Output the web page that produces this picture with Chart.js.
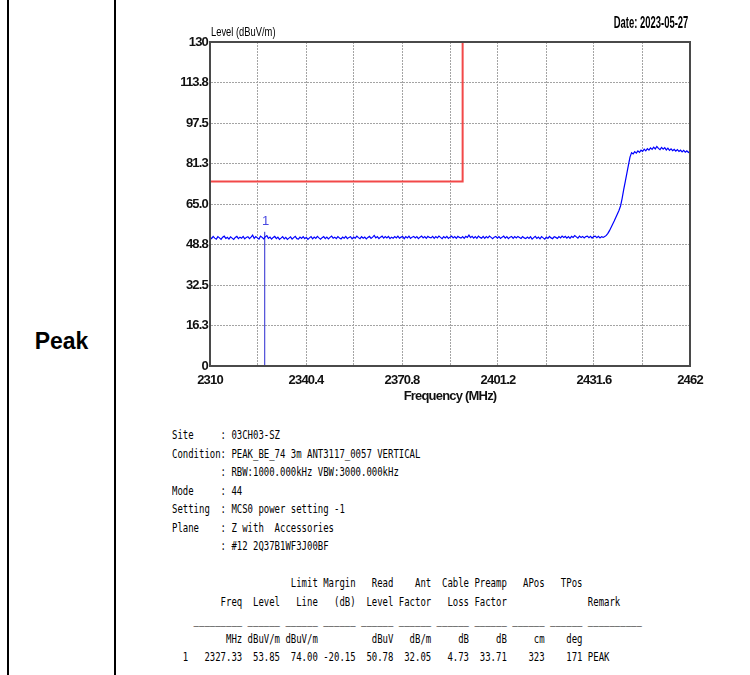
<!DOCTYPE html>
<html>
<head>
<meta charset="utf-8">
<script src="https://cdn.jsdelivr.net/npm/chart.js@4"></script>
<style>
  html, body { margin: 0; padding: 0; background: #fff; }
  body { width: 750px; height: 675px; position: relative; overflow: hidden; }
  .vline { position: absolute; top: 0; width: 2px; height: 675px; background: #000; }
  #peak { position: absolute; left: 8px; width: 107px; top: 327px; text-align: center;
          font: bold 23px 'Liberation Sans', Arial, sans-serif; line-height: 28px; }
  #chartWrap { position: absolute; left: 120px; top: 0; width: 630px; height: 410px; }
  #ylabel { position: absolute; left: 211px; top: 24px; font: 13px 'Liberation Sans', Arial, sans-serif;
            line-height: 15px; color: #000; transform: scaleX(0.72); transform-origin: 0 0; white-space: nowrap; }
  #date { position: absolute; right: 62px; top: 14px; font: bold 16px 'Liberation Sans', Arial, sans-serif;
          line-height: 18px; color: #000; transform: scaleX(0.59); transform-origin: 100% 0; white-space: nowrap; }
  #info { position: absolute; left: 172px; top: 426px; margin: 0;
          font: 11.5px 'DejaVu Sans Mono', 'Liberation Mono', monospace; line-height: 18.5px;
          color: #000; transform: scaleX(0.78); transform-origin: 0 0; }
</style>
</head>
<body>
<div class="vline" style="left:7px"></div>
<div class="vline" style="left:114px"></div>
<div id="peak">Peak</div>
<div id="chartWrap"><canvas id="chart" width="630" height="410"></canvas></div>
<div id="ylabel">Level (dBuV/m)</div>
<div id="date">Date: 2023-05-27</div>
<pre id="info">Site     : 03CH03-SZ
Condition: PEAK_BE_74 3m ANT3117_0057 VERTICAL
         : RBW:1000.000kHz VBW:3000.000kHz
Mode     : 44
Setting  : MCS0 power setting -1
Plane    : Z with  Accessories
         : #12 2Q37B1WF3J00BF

                      Limit Margin   Read    Ant  Cable Preamp   APos   TPos
         Freq  Level   Line   (dB)  Level Factor   Loss Factor               Remark
    _________ ______ ______ ______ ______ ______ ______ ______ ______ ______ __________
          MHz dBuV/m dBuV/m          dBuV   dB/m     dB     dB     cm    deg
  1   2327.33  53.85  74.00 -20.15  50.78  32.05   4.73  33.71    323    171 PEAK</pre>
<script>
// sweep: 2310 .. 2462 MHz, one reading every 0.5 MHz
const FREQ_START = 2310;
const FREQ_STEP = 0.5;
const traceLevel = [
  51.8, 51.1, 52.0, 51.3, 50.9, 51.9, 51.4, 50.8, 51.7, 52.1, 51.2, 51.6, 50.9, 51.8, 51.3, 50.8, 51.6, 52.0, 51.1, 51.7,
  51.3, 52.0, 51.0, 51.6, 51.9, 51.1, 51.7, 52.5, 51.2, 51.9, 51.4, 50.9, 52.1, 51.6, 51.0, 51.8, 52.3, 51.2, 51.7, 50.9,
  51.6, 52.0, 51.1, 51.7, 50.8, 51.3, 51.9, 51.0, 51.6, 50.8, 51.3, 51.8, 50.9, 51.5, 52.0, 51.1, 50.9, 51.7, 51.2, 51.9,
  51.1, 51.6, 50.8, 51.4, 51.9, 51.0, 51.7, 51.2, 52.0, 51.4, 50.9, 51.5, 51.9, 51.1, 51.7, 51.0, 51.6, 52.1, 51.3, 51.7,
  51.1, 51.9, 51.4, 51.0, 51.7, 51.3, 52.0, 51.1, 51.6, 51.9, 51.0, 51.7, 51.3, 52.1, 51.5, 51.1, 51.9, 51.3, 51.7, 51.0,
  51.6, 52.0, 51.2, 51.7, 52.4, 51.4, 51.9, 51.1, 51.7, 52.1, 51.3, 51.9, 51.4, 52.0, 51.1, 51.7, 51.3, 51.9, 51.4, 52.1,
  51.3, 51.7, 52.0, 51.1, 51.9, 51.4, 52.1, 51.2, 51.7, 52.0, 51.4, 51.9, 51.1, 51.7, 52.1, 51.4, 51.9, 51.2, 52.0, 51.6,
  51.4, 52.0, 51.2, 51.9, 51.4, 52.1, 51.6, 51.1, 51.9, 51.4, 52.0, 51.2, 51.7, 52.1, 51.4, 51.9, 51.2, 52.0, 51.6, 51.3,
  51.9, 51.2, 52.0, 51.6, 52.5, 51.5, 52.0, 51.3, 51.9, 51.2, 52.1, 51.6, 51.3, 52.0, 51.2, 51.9, 51.4, 52.1, 51.6, 51.1,
  51.7, 52.0, 51.3, 51.9, 51.2, 51.7, 52.1, 51.3, 51.9, 51.1, 51.7, 52.0, 51.2, 51.9, 51.4, 52.0, 51.6, 51.2, 51.9, 51.4,
  51.1, 51.7, 51.2, 51.9, 50.9, 51.5, 52.0, 51.2, 51.7, 51.0, 51.9, 51.4, 50.9, 51.7, 51.2, 52.0, 51.4, 51.1, 51.9, 51.6,
  51.2, 51.9, 51.4, 52.1, 51.6, 52.0, 51.3, 51.9, 51.2, 52.0, 51.6, 52.3, 51.8, 51.3, 52.1, 51.6, 52.0, 51.4, 51.9, 52.1,
  51.5, 52.0, 51.3, 51.9, 52.1, 51.5, 52.0, 51.4, 51.9, 51.6, 52.0, 52.4, 53.2, 54.3, 55.6, 56.9, 58.2, 59.6, 61.0, 62.4,
  64.2, 67.2, 70.8, 74.0, 77.3, 80.6, 83.8, 85.6, 85.1, 86.0, 85.4, 86.3, 85.7, 86.6, 86.1, 87.0, 86.3, 87.2, 86.6, 87.5,
  86.9, 87.8, 87.1, 88.1, 87.3, 86.8, 87.7, 87.0, 87.6, 86.7, 87.4, 86.5, 87.1, 86.4, 86.9, 86.2, 86.8, 86.1, 86.6, 85.9,
  86.5, 85.8, 86.3, 85.7, 86.0
];

// limit line (restricted band edge)
const limitFreq = [2310, 2390, 2390];
const limitLevel = [74, 74, 130];

// marker 1
const markerFreq = 2327.33;
const markerLevel = 53.85;
const markerLabel = '1';

// axes
const xTicks = [2310, 2325.2, 2340.4, 2355.6, 2370.8, 2386, 2401.2, 2416.4, 2431.6, 2446.8, 2462];
const xTickLabels = ['2310', '', '2340.4', '', '2370.8', '', '2401.2', '', '2431.6', '', '2462'];
const yTicks = [0, 16.25, 32.5, 48.75, 65, 81.25, 97.5, 113.75, 130];
const yTickLabels = ['0', '16.3', '32.5', '48.8', '65.0', '81.3', '97.5', '113.8', '130'];

const SANS = "'Liberation Sans', Arial, sans-serif";

// the printout uses a narrow font; tighten the canvas text a bit
const narrowText = {
  id: 'narrowText',
  beforeDraw(chart) {
    chart.ctx.letterSpacing = '-0.8px';
  }
};

const framePlugin = {
  id: 'frame',
  afterDatasetsDraw(chart) {
    const { ctx, chartArea: a, scales } = chart;
    ctx.save();
    ctx.strokeStyle = '#4a4a4a';
    ctx.lineWidth = 2;
    ctx.strokeRect(a.left, a.top, a.right - a.left, a.bottom - a.top);
    // marker label
    const x = scales.x.getPixelForValue(markerFreq);
    const y = scales.y.getPixelForValue(markerLevel);
    ctx.letterSpacing = '0px';
    ctx.fillStyle = '#4848e0';
    ctx.font = '13px ' + SANS;
    ctx.textAlign = 'center';
    ctx.textBaseline = 'middle';
    ctx.fillText(markerLabel, x + 1, y - 10);
    ctx.restore();
  }
};

const gridOpts = { color: '#a4a4a4', lineWidth: 1, drawTicks: false };
const borderOpts = { display: true, color: '#4a4a4a', width: 2, dash: [2, 1] };
const tickFont = { family: SANS, size: 13, weight: 'bold' };

new Chart(document.getElementById('chart'), {
  type: 'line',
  data: {
    datasets: [
      {
        data: traceLevel.map((v, i) => ({ x: FREQ_START + i * FREQ_STEP, y: v })),
        borderColor: '#0000ff',
        borderWidth: 1.2,
        pointRadius: 0,
        tension: 0,
      },
      {
        data: limitFreq.map((f, i) => ({ x: f, y: limitLevel[i] })),
        borderColor: '#f24848',
        borderWidth: 2,
        pointRadius: 0,
        tension: 0,
      },
      {
        data: [{ x: markerFreq, y: 0 }, { x: markerFreq, y: markerLevel }],
        borderColor: '#2a2ad0',
        borderWidth: 1,
        pointRadius: 0,
      },
    ],
  },
  options: {
    responsive: false,
    animation: false,
    devicePixelRatio: 1,
    layout: { padding: { top: 42, right: 60, left: 0, bottom: 0 } },
    plugins: { legend: { display: false }, tooltip: { enabled: false } },
    scales: {
      x: {
        type: 'linear',
        min: 2310,
        max: 2462,
        afterBuildTicks: axis => { axis.ticks = xTicks.map(v => ({ value: v })); },
        afterFit: axis => { axis.height = 44; },
        grid: gridOpts,
        border: borderOpts,
        ticks: {
          autoSkip: false,
          maxRotation: 0,
          padding: 7,
          color: '#111',
          font: tickFont,
          callback: (v, i) => xTickLabels[i],
        },
        title: {
          display: true,
          text: 'Frequency (MHz)',
          color: '#111',
          padding: { top: 0, bottom: 6 },
          font: tickFont,
        },
      },
      y: {
        type: 'linear',
        min: 0,
        max: 130,
        afterBuildTicks: axis => { axis.ticks = yTicks.map(v => ({ value: v })); },
        afterFit: axis => { axis.width = 90; },
        grid: gridOpts,
        border: borderOpts,
        ticks: {
          padding: 2,
          color: '#111',
          font: tickFont,
          callback: (v, i) => yTickLabels[i],
        },
      },
    },
  },
  plugins: [narrowText, framePlugin],
});
</script>
</body>
</html>
